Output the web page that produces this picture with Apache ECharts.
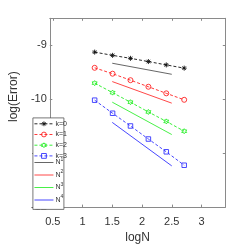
<!DOCTYPE html>
<html><head><meta charset="utf-8">
<script src="https://cdn.jsdelivr.net/npm/echarts@6/dist/echarts.min.js"></script>
<style>html,body{margin:0;padding:0;background:#fff}#c{width:249px;height:249px}</style>
</head><body><div id="c"></div>
<script>
var logN = [1.204, 1.505, 1.806, 2.107, 2.408, 2.709];
var k0 = [-9.127, -9.187, -9.242, -9.302, -9.364, -9.424];
var k1 = [-9.418, -9.527, -9.647, -9.769, -9.891, -10.011];
var k2 = [-9.702, -9.878, -10.055, -10.236, -10.411, -10.593];
var k3 = [-10.018, -10.26, -10.496, -10.738, -10.975, -11.224];
var refX = [1.5, 2.5];
var N1 = [-9.333, -9.538];
var N2 = [-9.673, -10.073];
var N3 = [-10.055, -10.655];
var N4 = [-10.43, -11.236];
var xTicks = [0.5, 1, 1.5, 2, 2.5, 3];
var yTicks = [-12, -11, -10, -9];
var kNames = ['k=0', 'k=1', 'k=2', 'k=3'];
var nNames = ['N1', 'N2', 'N3', 'N4'];

function pairs(xs, ys) { return xs.map(function (x, i) { return [x, ys[i]]; }); }

var narrow = "'Liberation Sans Narrow', 'Liberation Sans', Arial, sans-serif";
var reg = "'Liberation Sans', Arial, sans-serif";
var axisCol = '#8a8a8a';
var txtCol = '#333';
var hexPath = 'path://M100,0 L128.9,50 L186.6,50 L157.7,100 L186.6,150 L128.9,150 L100,200 L71.1,150 L13.4,150 L42.3,100 L13.4,50 L71.1,50 Z';
var astPath = 'path://M0,-10 L0,10 M-10,0 L10,0 M-7,-7 L7,7 M-7,7 L7,-7';
var kColors = ['#111', '#ff2222', '#22ee22', '#3333ff'];
var kSymbols = [astPath, 'circle', hexPath, 'rect'];
var nColors = ['#555', '#ff3333', '#33ee33', '#3333ff'];

function kSeries(i, data, size) {
  var color = kColors[i];
  return {
    name: kNames[i], type: 'line', data: pairs(logN, data),
    symbol: kSymbols[i], symbolSize: size,
    lineStyle: { color: color, width: 0.9, type: [3, 2] },
    itemStyle: { color: 'rgba(255,255,255,0)', borderColor: color, borderWidth: 0.9 },
    z: 3
  };
}
function nSeries(i, data) {
  var color = nColors[i];
  return {
    name: nNames[i], type: 'line', data: pairs(refX, data), symbol: 'none',
    lineStyle: { color: color, width: 0.9 },
    itemStyle: { color: color }
  };
}

var kLegendData = kNames.map(function (n, i) {
  return { name: n,
    itemStyle: { color: 'rgba(255,255,255,0)', borderColor: kColors[i], borderWidth: 0.9 },
    lineStyle: { color: kColors[i], width: 0.9, type: [3, 2] } };
});
var nLegendData = nNames.map(function (n, i) {
  return { name: n,
    itemStyle: { color: 'rgba(255,255,255,0)', borderColor: 'rgba(255,255,255,0)', borderWidth: 0, opacity: 0 },
    lineStyle: { color: nColors[i], width: 0.9, type: 'solid' } };
});

var chart = echarts.init(document.getElementById('c'), null, { renderer: 'canvas' });
chart.setOption({
  animation: false,
  grid: { left: 32.7, right: 23.7, top: 18.3, bottom: 38, containLabel: false },
  xAxis: [{
    type: 'value', min: 0.45, max: 3.4,
    name: 'logN', nameLocation: 'middle', nameGap: 22,
    nameTextStyle: { fontSize: 12, color: txtCol, fontFamily: narrow },
    axisLine: { show: true, lineStyle: { color: axisCol, width: 1 } },
    axisTick: { show: true, inside: true, length: 2.5, customValues: xTicks, lineStyle: { color: axisCol } },
    axisLabel: { customValues: xTicks, fontSize: 11, color: txtCol, fontFamily: narrow, margin: 9,
      formatter: function (v) { return String(v); } },
    splitLine: { show: false }
  }, {
    type: 'value', min: 0.45, max: 3.4, position: 'top',
    axisLine: { show: true, lineStyle: { color: axisCol, width: 1 } },
    axisTick: { show: true, inside: true, length: 2.5, customValues: xTicks, lineStyle: { color: axisCol } },
    axisLabel: { show: false }, splitLine: { show: false }
  }],
  yAxis: [{
    type: 'value', min: -12, max: -8.5,
    name: 'log(Error)', nameLocation: 'middle', nameGap: 17,
    nameTextStyle: { fontSize: 12, color: txtCol, fontFamily: reg, padding: [0, 0, 0, 32] },
    axisLine: { show: true, lineStyle: { color: axisCol, width: 1 } },
    axisTick: { show: true, inside: true, length: 2.5, customValues: yTicks, lineStyle: { color: axisCol } },
    axisLabel: { customValues: yTicks, fontSize: 11, color: txtCol, fontFamily: reg, margin: 3 },
    splitLine: { show: false }
  }, {
    type: 'value', min: -12, max: -8.5, position: 'right',
    axisLine: { show: true, lineStyle: { color: axisCol, width: 1 } },
    axisTick: { show: true, inside: true, length: 2.5, customValues: yTicks, lineStyle: { color: axisCol } },
    axisLabel: { show: false }, splitLine: { show: false }
  }],
  graphic: [{
    type: 'rect', left: 32.5, top: 117.5,
    shape: { width: 31, height: 91.5 },
    style: { fill: '#fff', stroke: '#555', lineWidth: 0.8 },
    z: 50
  }],
  legend: [{
    data: kLegendData, orient: 'vertical', left: 34, top: 120.3,
    itemWidth: 19, itemHeight: 6, itemGap: 3.7, padding: 0,
    textStyle: { fontSize: 7, lineHeight: 6, color: txtCol, fontFamily: narrow, padding: [0, 0, 0, -3] },
    z: 60
  }, {
    data: nLegendData, orient: 'vertical', left: 34, top: 157,
    itemWidth: 19, itemHeight: 11, itemGap: 1.5, padding: 0,
    formatter: function (n) { return 'N{s|' + n.slice(1) + '}'; },
    textStyle: { fontSize: 7, lineHeight: 11, color: txtCol, fontFamily: narrow, padding: [0, 0, 0, -3],
      rich: { s: { fontSize: 5, lineHeight: 11, verticalAlign: 'top', padding: [0, 0, 6, 0], color: txtCol, fontFamily: narrow } } },
    z: 60
  }],
  series: [
    kSeries(0, k0, 5),
    kSeries(1, k1, 5),
    kSeries(2, k2, 5),
    kSeries(3, k3, 4.5),
    nSeries(0, N1),
    nSeries(1, N2),
    nSeries(2, N3),
    nSeries(3, N4)
  ]
});
</script></body></html>
